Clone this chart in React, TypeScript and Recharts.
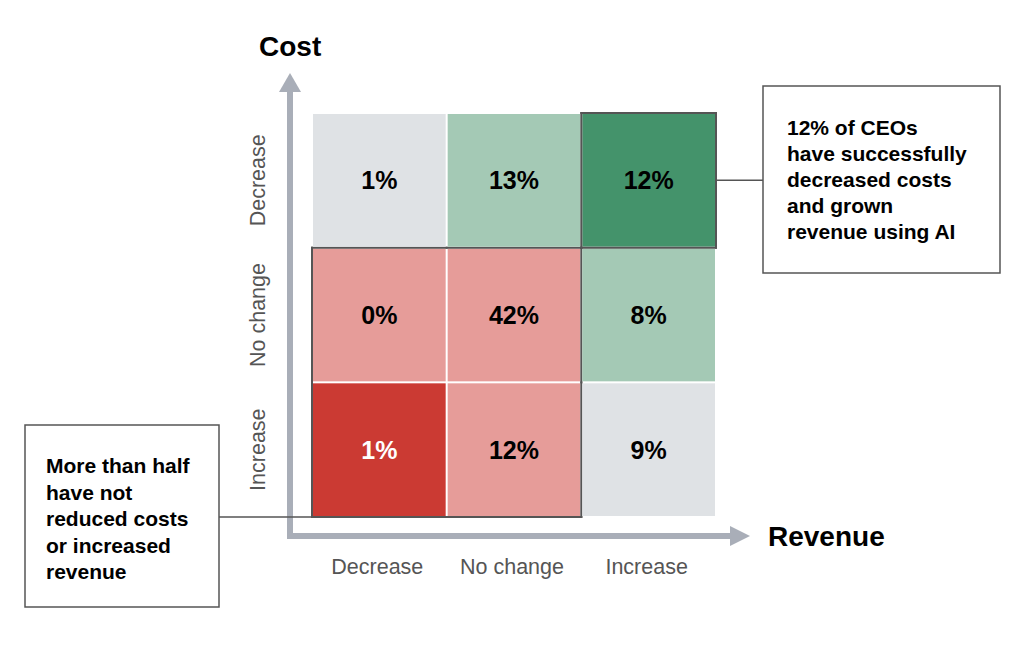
import React from 'react';
import { ScatterChart, Scatter, XAxis, YAxis, usePlotArea } from 'recharts';

// ---- data ----
const revenueLevels = ['Decrease', 'No change', 'Increase'];
// listed bottom to top
const costLevels = ['Increase', 'No change', 'Decrease'];
// share of CEOs (%) per cost row, across revenue columns
const costDecreaseRow = [1, 13, 12];
const costNoChangeRow = [0, 42, 8];
const costIncreaseRow = [1, 12, 9];

const rightNote = ['12% of CEOs', 'have successfully', 'decreased costs', 'and grown', 'revenue using AI'];
const leftNote = ['More than half', 'have not', 'reduced costs', 'or increased', 'revenue'];

// ---- styles ----
const FONT = '"Liberation Sans", Arial, Helvetica, sans-serif';
const AXIS_GRAY = '#a9aeb8';
const BORDER = '#555555';
const COLORS: Record<string, string> = {
  'Decrease|Decrease': '#dfe2e5',
  'Decrease|No change': '#a4c9b5',
  'Decrease|Increase': '#44936b',
  'No change|Decrease': '#e69c99',
  'No change|No change': '#e69c99',
  'No change|Increase': '#a4c9b5',
  'Increase|Decrease': '#cb3a33',
  'Increase|No change': '#e69c99',
  'Increase|Increase': '#dfe2e5',
};

// highlighted groups (outlined): returns group id or null
const groupOf = (ci: number, ri: number): string | null => {
  // ci: index in costLevels (0 = bottom), ri: index in revenueLevels
  if (ci < 0 || ci > 2 || ri < 0 || ri > 2) return null;
  if (ci <= 1 && ri <= 1) return 'stuck';
  if (ci === 2 && ri === 2) return 'best';
  return null;
};

const rows: Record<string, number[]> = {
  Decrease: costDecreaseRow,
  'No change': costNoChangeRow,
  Increase: costIncreaseRow,
};

const data = costLevels.flatMap((cost) =>
  revenueLevels.map((revenue, i) => ({ revenue, cost, share: rows[cost][i] }))
);

const HeatCell = (props: any) => {
  const plot = usePlotArea();
  const { cx, cy, payload } = props;
  if (!plot || cx == null || cy == null) return null;
  const w = plot.width / revenueLevels.length;
  const h = plot.height / costLevels.length;
  const key = `${payload.cost}|${payload.revenue}`;
  const fill = COLORS[key];
  const textFill = key === 'Increase|Decrease' ? '#ffffff' : '#000000';
  const x0 = cx - w / 2;
  const y0 = cy - h / 2;
  const ci = costLevels.indexOf(payload.cost);
  const ri = revenueLevels.indexOf(payload.revenue);
  const g = groupOf(ci, ri);
  const edges: JSX.Element[] = [];
  if (g) {
    // top (ci+1), bottom (ci-1), left (ri-1), right (ri+1)
    if (groupOf(ci + 1, ri) !== g)
      edges.push(<line key="t" x1={x0 - 1} y1={y0} x2={x0 + w + 1} y2={y0} stroke={BORDER} strokeWidth={2} />);
    if (groupOf(ci - 1, ri) !== g)
      edges.push(<line key="b" x1={x0 - 1} y1={y0 + h} x2={x0 + w + 1} y2={y0 + h} stroke={BORDER} strokeWidth={2} />);
    if (groupOf(ci, ri - 1) !== g)
      edges.push(<line key="l" x1={x0} y1={y0 - 1} x2={x0} y2={y0 + h + 1} stroke={BORDER} strokeWidth={2} />);
    if (groupOf(ci, ri + 1) !== g)
      edges.push(<line key="r" x1={x0 + w} y1={y0 - 1} x2={x0 + w} y2={y0 + h + 1} stroke={BORDER} strokeWidth={2} />);
  }
  return (
    <g>
      <rect x={x0 + 1} y={y0 + 1} width={w - 2} height={h - 2} fill={fill} />
      {edges}
      <text
        x={cx}
        y={cy + 9}
        textAnchor="middle"
        fontFamily={FONT}
        fontWeight="bold"
        fontSize={25}
        fill={textFill}
      >
        {`${payload.share}%`}
      </text>
    </g>
  );
};

const XTick = (props: any) => {
  const { x, y, payload } = props;
  return (
    <text x={x - 2} y={y + 57} textAnchor="middle" fontFamily={FONT} fontSize={21.5} fill="#555555">
      {payload.value}
    </text>
  );
};

const YTick = (props: any) => {
  const { x, y, payload } = props;
  const tx = x - 47;
  return (
    <text
      x={tx}
      y={y}
      textAnchor="middle"
      transform={`rotate(-90, ${tx}, ${y})`}
      fontFamily={FONT}
      fontSize={21.5}
      fill="#555555"
    >
      {payload.value}
    </text>
  );
};

const Overlay = () => {
  const plot = usePlotArea();
  if (!plot) return null;
  const { x, y, width, height } = plot;
  const ch = height / costLevels.length;
  const ax = x - 22;
  const ay = y + height + 19;
  const bottom = y + height;
  const right = x + width;
  return (
    <g>
      {/* axes arrows */}
      <line x1={ax} y1={ay + 3} x2={ax} y2={y - 22} stroke={AXIS_GRAY} strokeWidth={6} />
      <polygon points={`${ax - 11},${y - 21} ${ax + 11},${y - 21} ${ax},${y - 40}`} fill={AXIS_GRAY} />
      <line x1={ax - 3} y1={ay} x2={right + 15} y2={ay} stroke={AXIS_GRAY} strokeWidth={6} />
      <polygon points={`${right + 14},${ay - 10} ${right + 14},${ay + 10} ${right + 34},${ay}`} fill={AXIS_GRAY} />
      <text x={x - 53} y={y - 57} fontFamily={FONT} fontWeight="bold" fontSize={28} fill="#000">
        Cost
      </text>
      <text x={right + 52} y={ay + 10} fontFamily={FONT} fontWeight="bold" fontSize={28} fill="#000">
        Revenue
      </text>

      {/* right callout */}
      <line x1={right} y1={y + ch / 2} x2={763} y2={y + ch / 2} stroke={BORDER} strokeWidth={1.5} />
      <rect x={763} y={86} width={237} height={187} fill="#fff" stroke={BORDER} strokeWidth={1.5} />
      {rightNote.map((t, i) => (
        <text key={t} x={787} y={135 + i * 26} fontFamily={FONT} fontWeight="bold" fontSize={21} fill="#000">
          {t}
        </text>
      ))}

      {/* left callout */}
      <line x1={219} y1={bottom} x2={x} y2={bottom} stroke={BORDER} strokeWidth={1.5} />
      <rect x={25} y={425} width={194} height={182} fill="#fff" stroke={BORDER} strokeWidth={1.5} />
      {leftNote.map((t, i) => (
        <text key={t} x={46} y={473 + i * 26.5} fontFamily={FONT} fontWeight="bold" fontSize={21} fill="#000">
          {t}
        </text>
      ))}
    </g>
  );
};

export default function App() {
  return (
    <div style={{ position: 'absolute', left: 0, top: 0, width: 1024, height: 645, background: '#fff' }}>
      <ScatterChart width={1024} height={645} margin={{ top: 113, right: 308, left: 252, bottom: 68 }}>
        <XAxis
          type="category"
          dataKey="revenue"
          domain={revenueLevels}
          allowDuplicatedCategory={false}
          axisLine={false}
          tickLine={false}
          tickSize={0}
          tickMargin={0}
          height={60}
          tick={<XTick />}
          interval={0}
        />
        <YAxis
          type="category"
          dataKey="cost"
          domain={costLevels}
          allowDuplicatedCategory={false}
          axisLine={false}
          tickLine={false}
          tickSize={0}
          tickMargin={0}
          width={60}
          tick={<YTick />}
          interval={0}
        />
        <Overlay />
        <Scatter data={data} shape={<HeatCell />} isAnimationActive={false} />
      </ScatterChart>
    </div>
  );
}
